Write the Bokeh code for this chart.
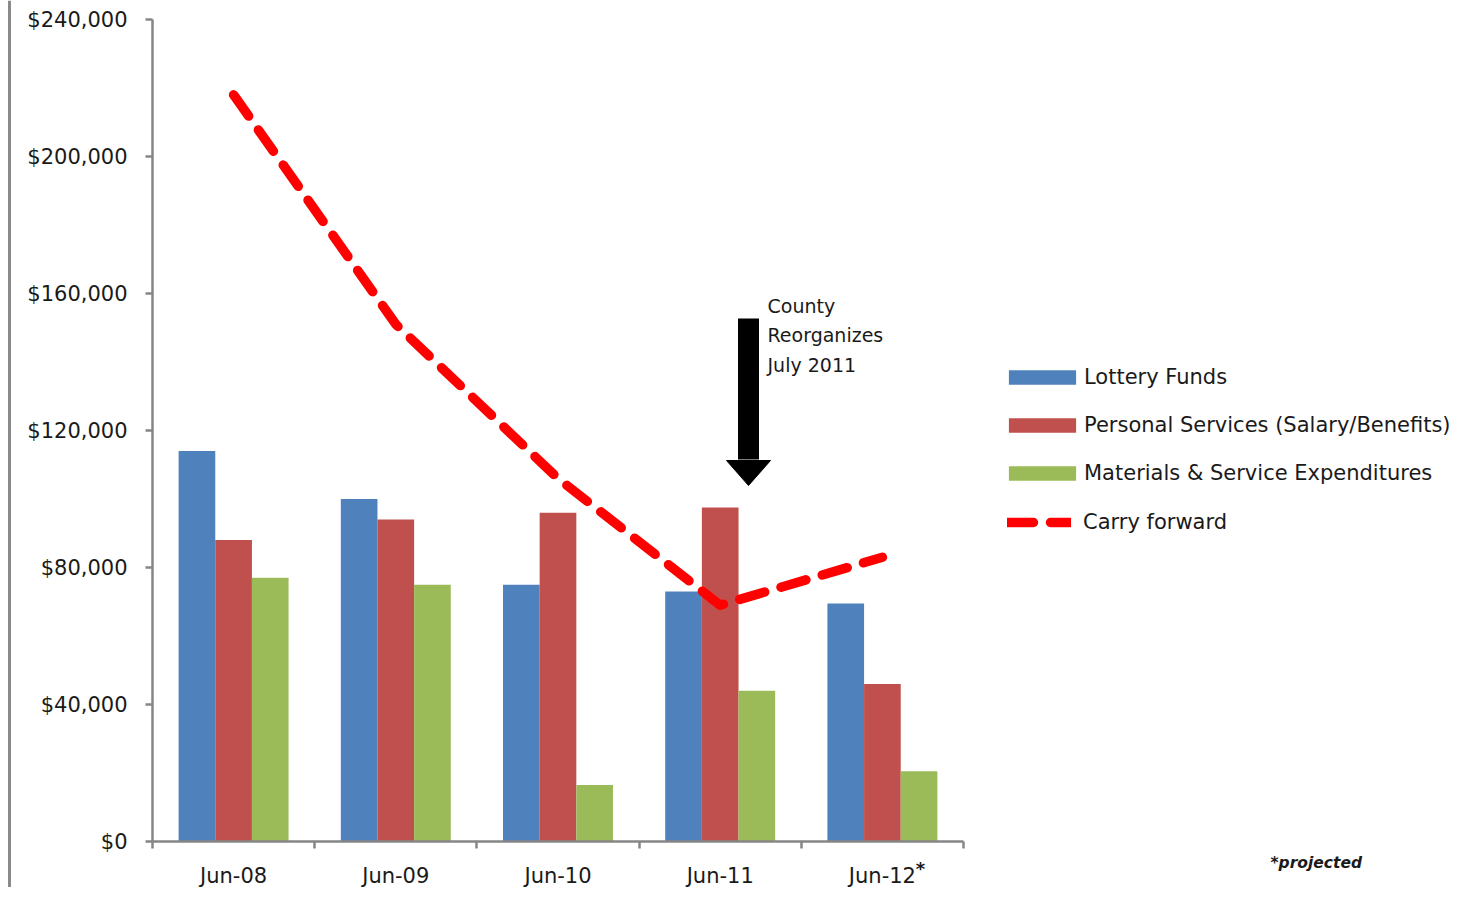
import numpy as np
from bokeh.plotting import figure
from bokeh.models import (FixedTicker, NumeralTickFormatter, Legend, LegendItem,
                          Label, ColumnDataSource, Range1d, Span)
from bokeh.embed import file_html
from bokeh.resources import INLINE

categories = ["Jun-08", "Jun-09", "Jun-10", "Jun-11", "Jun-12"]
lottery_funds = [114000, 100000, 75000, 73000, 69500]
personal_services = [88000, 94000, 96000, 97500, 46000]
materials_services = [77000, 75000, 16500, 44000, 20500]
carry_forward = [218000, 151000, 106000, 69000, 83000]
y_ticks = [0, 40000, 80000, 120000, 160000, 200000, 240000]

FONT = "DejaVu Sans"
TXT = "#1a1a1a"
W, H = 1455, 887

# pixel geometry of the plotting area (canvas px)
X0, X1 = 152, 963     # category 0 .. 5
Y0, Y1 = 841, 19      # value 0 .. 240000
ux = (X1 - X0) / 5.0
uy = 240000.0 / (Y0 - Y1)

idx = np.arange(len(categories)) + 0.5
bw = 0.226

p = figure(frame_width=W, frame_height=H, output_backend="svg",
           toolbar_location=None,
           x_range=Range1d(-X0 / ux, (W - X0) / ux),
           y_range=Range1d(-(H - Y0) * uy, Y0 * uy),
           min_border=0, outline_line_color=None)
p.grid.visible = False

# outer frame line at left edge
p.add_layout(Span(location=(9 - X0) / ux, dimension="height",
                  line_color="#8a8a8a", line_width=3))

src = ColumnDataSource(dict(x=idx, cf=carry_forward))

r1 = p.vbar(x=idx - bw, top=lottery_funds, width=bw, fill_color="#4F81BD", line_color=None)
r2 = p.vbar(x=idx, top=personal_services, width=bw, fill_color="#C0504D", line_color=None)
r3 = p.vbar(x=idx + bw, top=materials_services, width=bw, fill_color="#9BBB59", line_color=None)
r4 = p.line(x="x", y="cf", source=src, line_color="#FF0000", line_width=9.5,
            line_dash="26 17", line_cap="round", line_join="round")

# axes
for ax in (p.xaxis[0], p.yaxis[0]):
    ax.fixed_location = 0
    ax.axis_line_color = "#868686"
    ax.axis_line_width = 2.5
    ax.major_label_text_font = FONT
    ax.major_label_text_font_size = "21px"
    ax.major_label_text_color = TXT

p.yaxis.bounds = (0, 240000)
p.yaxis.ticker = FixedTicker(ticks=y_ticks, minor_ticks=[])
p.yaxis.formatter = NumeralTickFormatter(format="$0,0")
p.yaxis.major_tick_line_color = "#868686"
p.yaxis.major_tick_line_width = 2.5
p.yaxis.major_tick_in = 0
p.yaxis.major_tick_out = 7
p.yaxis.major_label_standoff = 18

p.xaxis.bounds = (0, 5)
p.xaxis.ticker = FixedTicker(ticks=list(idx), minor_ticks=list(range(6)))
p.xaxis.major_label_overrides = {float(v): c for v, c in zip(idx, categories)}
p.xaxis.major_tick_line_color = None
p.xaxis.minor_tick_line_color = "#868686"
p.xaxis.minor_tick_line_width = 2.5
p.xaxis.minor_tick_in = 0
p.xaxis.minor_tick_out = 7
p.xaxis.major_label_standoff = 15

# arrow annotation
ax_ = (748 - X0) / ux
hw = 22 / ux
p.segment(x0=[ax_], y0=[(Y0 - 318) * uy], x1=[ax_], y1=[(Y0 - 459) * uy],
          line_color="black", line_width=21, line_cap="butt")
p.patch(x=[ax_ - hw, ax_ + hw, ax_], y=[(Y0 - 460) * uy] * 2 + [(Y0 - 485) * uy],
        fill_color="black", line_color="black", line_width=1)

p.add_layout(Label(x=(767 - X0) / ux, y=(Y0 - 294) * uy,
                   text="County\nReorganizes\nJuly 2011",
                   text_font=FONT, text_font_size="19px",
                   text_color=TXT, text_baseline="top", text_line_height=1.36))

# Jun-12 asterisk and note
p.add_layout(Label(x=(920 - X0) / ux, y=(Y0 - 868) * uy, text="*", text_font=FONT,
                   text_font_size="18px", text_font_style="bold", text_color=TXT,
                   text_align="center", text_baseline="middle"))
p.add_layout(Label(x=(1270 - X0) / ux, y=(Y0 - 862) * uy, text="*projected",
                   text_font=FONT, text_font_size="15.5px", text_font_style="bold italic",
                   text_color=TXT, text_baseline="middle"))

common = dict(padding=0, margin=0, border_line_color=None, background_fill_alpha=0,
              label_text_font=FONT, label_text_font_size="21px",
              label_text_color=TXT, glyph_height=18, label_height=14, spacing=24)

legend_bars = Legend(items=[
    LegendItem(label="Lottery Funds", renderers=[r1]),
    LegendItem(label="Personal Services (Salary/Benefits)", renderers=[r2]),
    LegendItem(label="Materials & Service Expenditures", renderers=[r3]),
], location=(1000, H - 485), glyph_width=84, label_standoff=0, **common)
legend_line = Legend(items=[
    LegendItem(label="Carry forward", renderers=[r4]),
], location=(1007, H - 534), glyph_width=64, label_standoff=12, **common)
p.add_layout(legend_bars, "center")
p.add_layout(legend_line, "center")

open("out.html", "w").write(file_html(p, INLINE))
